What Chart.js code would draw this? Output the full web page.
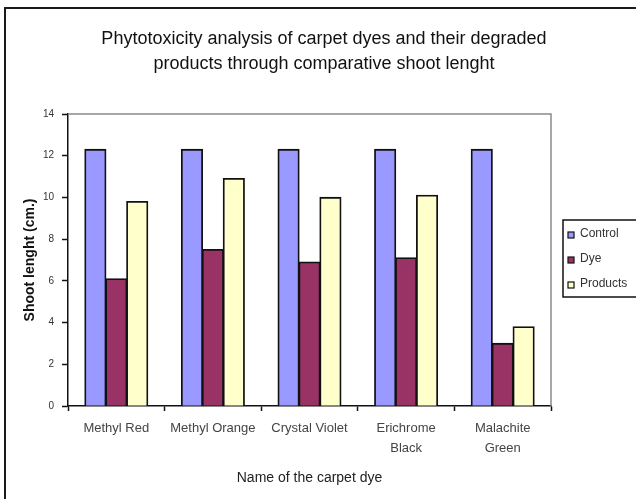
<!DOCTYPE html>
<html>
<head>
<meta charset="utf-8">
<script src="https://cdn.jsdelivr.net/npm/chart.js@4.4.1/dist/chart.umd.min.js"></script>
<style>
  html, body { margin: 0; padding: 0; background: #fff; overflow: hidden; }
  #wrap { position: relative; width: 636px; height: 499px; }
  #frame {
    position: absolute; left: 4px; top: 7px; width: 700px; height: 600px;
    border-left: 2px solid #1a1a1a; border-top: 2px solid #1a1a1a;
  }
  canvas { position: absolute; left: 0; top: 0; }
</style>
</head>
<body>
<div id="wrap">
  <div id="frame"></div>
  <canvas id="chart" width="636" height="499"></canvas>
</div>
<script>
const titleLines = ['Phytotoxicity analysis of carpet dyes and their degraded',
                    'products through comparative shoot lenght'];
const dyes = ['Methyl Red', 'Methyl Orange', 'Crystal Violet', ['Erichrome', 'Black'], ['Malachite', 'Green']];
const control = [12.3, 12.3, 12.3, 12.3, 12.3];
const dye = [6.1, 7.5, 6.9, 7.1, 3.0];
const products = [9.8, 10.9, 10.0, 10.1, 3.8];
const yTicks = [0, 2, 4, 6, 8, 10, 12, 14];

const FONT = 'Liberation Sans, Arial, sans-serif';

// title, plot frame and legend box drawn the Excel way
const excelBits = {
  id: 'excelBits',
  afterDraw(chart) {
    const ctx = chart.ctx;
    const a = chart.chartArea;
    ctx.save();

    // grey plot area border (top + right)
    ctx.strokeStyle = '#8a8a8a';
    ctx.lineWidth = 1.5;
    ctx.beginPath();
    ctx.moveTo(a.left, a.top);
    ctx.lineTo(a.right, a.top);
    ctx.lineTo(a.right, a.bottom);
    ctx.stroke();

    // title
    ctx.fillStyle = '#111';
    ctx.font = '18px ' + FONT;
    ctx.textAlign = 'center';
    ctx.textBaseline = 'middle';
    titleLines.forEach((t, i) => ctx.fillText(t, 324, 39 + i * 25));

    // legend
    ctx.strokeStyle = '#111';
    ctx.lineWidth = 1.5;
    ctx.strokeRect(563, 220, 90, 77);
    ctx.font = '12px ' + FONT;
    ctx.textAlign = 'left';
    chart.data.datasets.forEach((ds, i) => {
      const y = 235 + i * 25;
      ctx.fillStyle = ds.backgroundColor;
      ctx.fillRect(568, y - 3, 6, 6);
      ctx.lineWidth = 1.2;
      ctx.strokeRect(568, y - 3, 6, 6);
      ctx.fillStyle = '#333';
      ctx.fillText(ds.label, 580, y - 1);
    });
    ctx.restore();
  }
};

new Chart(document.getElementById('chart'), {
  type: 'bar',
  data: {
    labels: dyes,
    datasets: [
      { label: 'Control', data: control, backgroundColor: '#9999ff' },
      { label: 'Dye', data: dye, backgroundColor: '#993366' },
      { label: 'Products', data: products, backgroundColor: '#ffffcc' }
    ]
  },
  options: {
    responsive: false,
    animation: false,
    layout: { padding: { left: 8, right: 85, top: 114, bottom: 8 } },
    datasets: {
      bar: {
        borderColor: '#111',
        borderWidth: 1.8,
        inflateAmount: 0.6,
        categoryPercentage: 0.65,
        barPercentage: 1.0
      }
    },
    plugins: {
      legend: { display: false },
      title: { display: false },
      tooltip: { enabled: false }
    },
    scales: {
      x: {
        afterFit: s => { s.height = 85; },
        grid: { offset: true, drawOnChartArea: false, drawTicks: true, tickLength: 5, tickColor: '#111', tickWidth: 1.5 },
        border: { color: '#111', width: 1.5 },
        ticks: { color: '#444', font: { family: FONT, size: 13, lineHeight: 1.55 }, padding: 7, maxRotation: 0 },
        title: { display: true, text: 'Name of the carpet dye', color: '#222', font: { family: FONT, size: 14 }, padding: { bottom: 4 } }
      },
      y: {
        min: 0,
        max: 14,
        afterFit: s => { s.width = 60; },
        afterBuildTicks: s => { s.ticks = yTicks.map(v => ({ value: v })); },
        grid: { drawOnChartArea: false, drawTicks: true, tickLength: 6, tickColor: '#111', tickWidth: 1.5 },
        border: { color: '#111', width: 1.5 },
        ticks: { color: '#333', font: { family: FONT, size: 10 }, padding: 8 },
        title: { display: true, text: 'Shoot lenght (cm.)', color: '#111', font: { family: FONT, size: 14, weight: 'bold' }, padding: { top: 14 } }
      }
    }
  },
  plugins: [excelBits]
});
</script>
</body>
</html>
